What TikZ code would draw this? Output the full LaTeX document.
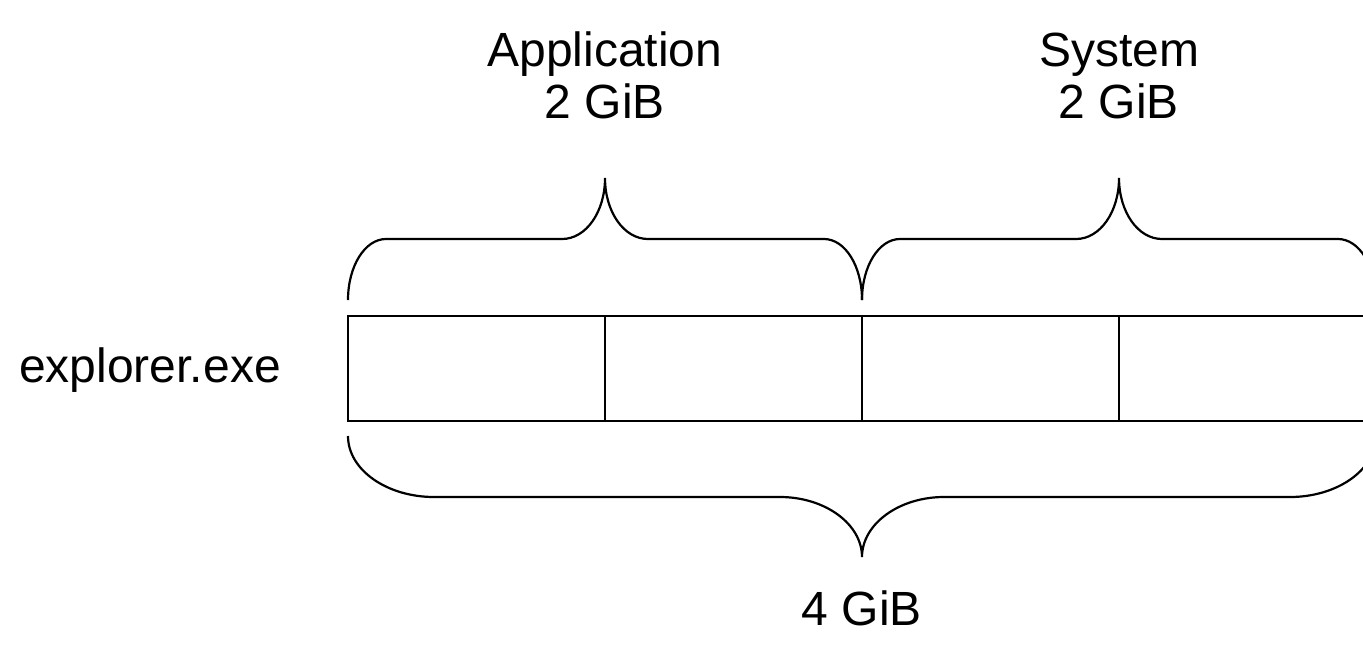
\documentclass[tikz,border=0pt]{standalone}
\usepackage{fontspec}
\setmainfont{Liberation Sans}
\begin{document}
\begin{tikzpicture}[x=0.5pt,y=-0.5pt,
  cell/.style={draw=black,line width=1.1pt,minimum width=128.5pt,minimum height=52.5pt,inner sep=0pt,outer sep=0pt},
  brace/.style={draw=black,line width=1.1pt},
  lbl/.style={font=\fontsize{24}{26}\selectfont,align=center,inner sep=0pt}]
\useasboundingbox (0,0) rectangle (1363,648);
\clip (0,0) rectangle (1363,648);
% memory cells
\node[cell] (c1) at (476.5,368.5) {};
\node[cell] (c2) at (733.5,368.5) {};
\node[cell] (c3) at (990.5,368.5) {};
\node[cell] (c4) at (1247.5,368.5) {};
% top braces
\draw[brace] (348,300) .. controls (348,266) and (365,239) .. (386,239) -- (562,239)
  .. controls (586,239) and (605,212) .. (605,178)
  .. controls (605,212) and (624,239) .. (648,239) -- (824,239)
  .. controls (845,239) and (862,266) .. (862,300);
\draw[brace] (862,300) .. controls (862,266) and (879,239) .. (900,239) -- (1076,239)
  .. controls (1100,239) and (1119,212) .. (1119,178)
  .. controls (1119,212) and (1138,239) .. (1162,239) -- (1338,239)
  .. controls (1359,239) and (1376,266) .. (1376,300);
% bottom brace
\draw[brace] (348,436) .. controls (348,470) and (387,497) .. (434,497) -- (780,497)
  .. controls (825,497) and (862,524) .. (862,557)
  .. controls (862,524) and (899,497) .. (944,497) -- (1290,497)
  .. controls (1337,497) and (1376,470) .. (1376,436);
% labels
\node[lbl,anchor=base] (app) at (605,118) {Application\\2 GiB};
\node[lbl,anchor=base] (sys) at (1119,118) {System\\2 GiB};
\node[lbl,anchor=base] (exe) at (150,382) {explorer.exe};
\node[lbl,anchor=base] (total) at (862,625) {4 GiB};
\end{tikzpicture}
\end{document}
